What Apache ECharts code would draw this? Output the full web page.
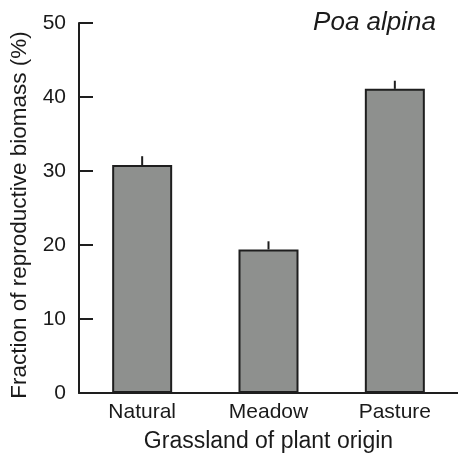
<!DOCTYPE html>
<html>
<head>
<meta charset="utf-8">
<script src="https://cdn.jsdelivr.net/npm/echarts@6/dist/echarts.min.js"></script>
<style>html,body{margin:0;padding:0;background:#fff;}#c{width:458px;height:458px;}</style>
</head>
<body>
<div id="c"></div>
<script>
var categories = ['Natural', 'Meadow', 'Pasture'];
var means = [30.8, 19.4, 41.1];
var upperErr = [32.0, 20.5, 42.2];
var yTicks = [0, 10, 20, 30, 40, 50];

var FONT = "'Liberation Sans', Arial, Helvetica, sans-serif";
var chart = echarts.init(document.getElementById('c'), null, {renderer: 'canvas'});
chart.setOption({
  animation: false,
  backgroundColor: '#fff',
  graphic: [{
    type: 'text',
    style: {
      text: 'Poa alpina', x: 436, y: 23, textAlign: 'right', textVerticalAlign: 'middle',
      font: 'italic 26px ' + FONT, fill: '#1a1a1a'
    }
  }],
  grid: {left: 79, top: 23, width: 384, bottom: 57, containLabel: false},
  xAxis: {
    type: 'category',
    data: categories,
    name: 'Grassland of plant origin',
    nameLocation: 'middle',
    nameGap: 37,
    nameTextStyle: {fontSize: 23, fontFamily: FONT, color: '#1a1a1a'},
    axisLine: {lineStyle: {color: '#1e1e1e', width: 2}},
    axisTick: {show: false},
    axisLabel: {fontSize: 21, fontFamily: FONT, color: '#1a1a1a', margin: 9}
  },
  yAxis: {
    type: 'value',
    min: 0, max: 50, interval: 10,
    name: 'Fraction of reproductive biomass (%)',
    nameLocation: 'middle',
    nameGap: 46,
    nameTextStyle: {fontSize: 22.5, fontFamily: FONT, color: '#1a1a1a', padding: [0, 14, 0, 0]},
    axisLine: {show: true, lineStyle: {color: '#1e1e1e', width: 2}},
    axisTick: {show: true, inside: true, length: 14, lineStyle: {color: '#1e1e1e', width: 2}},
    splitLine: {show: false},
    axisLabel: {fontSize: 21, fontFamily: FONT, color: '#1a1a1a', margin: 13,
      formatter: function (v) { return yTicks.indexOf(v) >= 0 ? String(v) : ''; }}
  },
  series: [{
    type: 'bar',
    data: means,
    barWidth: 60,
    itemStyle: {color: '#8e908e', borderColor: '#1e1e1e', borderWidth: 2},
    z: 2
  }, {
    type: 'custom',
    data: means.map(function (m, i) { return [i, m, upperErr[i]]; }),
    renderItem: function (params, api) {
      var p0 = api.coord([api.value(0), api.value(1)]);
      var p1 = api.coord([api.value(0), api.value(2)]);
      return {
        type: 'line',
        shape: {x1: p0[0], y1: p0[1], x2: p1[0], y2: p1[1]},
        style: {stroke: '#1e1e1e', lineWidth: 2}
      };
    },
    z: 3
  }]
});
</script>
</body>
</html>
